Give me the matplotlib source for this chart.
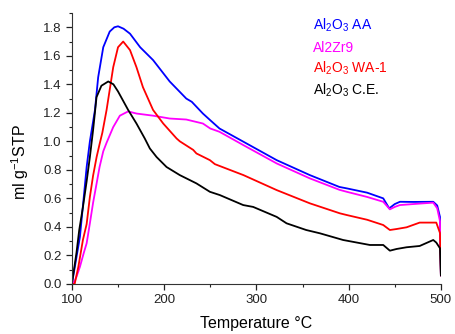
import matplotlib
matplotlib.use("Agg")
import matplotlib.pyplot as plt
from matplotlib.ticker import MultipleLocator

plt.rcParams['font.family'] = ['Liberation Sans', 'DejaVu Sans']
plt.rcParams['mathtext.default'] = 'regular'

# Al2O3 AA (blue)
aa_x = [100, 104, 108.7, 112, 116, 119.5, 125, 128.5, 134, 141, 146, 150, 156, 163, 174, 188, 206, 224, 230, 242, 250, 260,
        286, 322, 358, 390, 398, 420, 437.5, 444, 450, 455.6, 470, 491.7, 496, 499, 500]
aa_y = [0.0, 0.15, 0.33, 0.55, 0.82, 1.0, 1.22, 1.45, 1.66, 1.77, 1.80, 1.807, 1.79, 1.755, 1.66, 1.57, 1.42, 1.30, 1.277, 1.195, 1.148, 1.09,
        0.997, 0.868, 0.763, 0.68, 0.67, 0.64, 0.60, 0.53, 0.56, 0.576, 0.575, 0.576, 0.55, 0.47, 0.06]

# Al2Zr9 (magenta)
zr_x = [100, 103, 105, 108.7, 113, 116, 119.5, 123, 126.8, 130, 134, 137.6, 144.8, 152, 161, 170, 188, 206, 224, 242, 250,
        260, 286, 322, 358, 390, 398, 420, 437.5, 444.7, 450, 455.6, 470, 491.7, 496, 499, 500]
zr_y = [0.0, 0.02, 0.05, 0.12, 0.22, 0.285, 0.425, 0.57, 0.705, 0.82, 0.93, 0.99, 1.10, 1.18, 1.21, 1.195, 1.18, 1.16, 1.153, 1.125, 1.09,
        1.067, 0.973, 0.845, 0.74, 0.66, 0.646, 0.61, 0.576, 0.523, 0.54, 0.553, 0.56, 0.57, 0.53, 0.44, 0.06]

# Al2O3 WA-1 (red)
wa_x = [100, 103, 107, 112, 116, 119.5, 123, 126.8, 130, 133, 137.6, 144.8, 150, 155.6, 163, 170, 177, 188, 199, 213.5, 217,
        231.5, 235, 249.6, 255, 286, 322, 358, 390.5, 398, 420, 437.5, 444.7, 452, 462.8, 477, 495, 499, 500]
wa_y = [0.0, 0.0, 0.12, 0.31, 0.42, 0.61, 0.76, 0.89, 0.98, 1.06, 1.22, 1.52, 1.66, 1.70, 1.64, 1.52, 1.38, 1.22, 1.125, 1.02, 1.0,
        0.94, 0.915, 0.868, 0.84, 0.763, 0.658, 0.565, 0.495, 0.483, 0.45, 0.413, 0.378, 0.385, 0.397, 0.43, 0.43, 0.357, 0.06]

# Al2O3 C.E. (black)
ce_x = [100, 105, 108, 112, 116, 119.5, 123, 126.7, 132, 139.4, 145, 150, 161, 170, 179, 184.5, 191.8, 202.6, 217, 235,
        249.6, 260.4, 285.7, 296.5, 322, 332.7, 354, 368.8, 394, 423, 437.5, 444.7, 452, 462.8, 477, 491.7, 495, 499, 500]
ce_y = [0.0, 0.22, 0.38, 0.54, 0.72, 0.89, 1.08, 1.31, 1.39, 1.42, 1.40, 1.35, 1.22, 1.125, 1.02, 0.95, 0.89, 0.82, 0.763, 0.705,
        0.646, 0.623, 0.553, 0.54, 0.47, 0.425, 0.378, 0.355, 0.308, 0.273, 0.273, 0.233, 0.245, 0.257, 0.266, 0.308, 0.29, 0.25, 0.06]

labels = [r'Al$_2$O$_3$ AA', 'Al2Zr9', r'Al$_2$O$_3$ WA-1', r'Al$_2$O$_3$ C.E.']
colors = ['#0000ff', '#ff00ff', '#ff0000', '#000000']

fig = plt.figure(figsize=(4.55, 3.34), dpi=100)
ax = fig.add_axes([0.158, 0.150, 0.811, 0.811])

series = [(aa_x, aa_y), (zr_x, zr_y), (wa_x, wa_y), (ce_x, ce_y)]
for (x, y), c in zip(series, colors):
    ax.plot(x, y, color=c, lw=1.3)

ax.set_xlim(100, 500)
ax.set_ylim(0, 1.9)
ax.xaxis.set_major_locator(MultipleLocator(100))
ax.xaxis.set_minor_locator(MultipleLocator(50))
ax.yaxis.set_major_locator(MultipleLocator(0.2))
ax.yaxis.set_minor_locator(MultipleLocator(0.1))
ax.yaxis.set_major_formatter(matplotlib.ticker.FormatStrFormatter('%.1f'))
ax.spines['top'].set_visible(False)
ax.spines['right'].set_visible(False)
for s in ['left', 'bottom']:
    ax.spines[s].set_color('#333333')
ax.tick_params(which='major', direction='out', length=4, width=0.9, labelsize=9.5, colors='#222222')
ax.tick_params(which='minor', direction='out', length=2.5, width=0.8, colors='#222222')
ax.set_xlabel('Temperature °C', fontsize=11.5, labelpad=7)
ax.set_ylabel(r'ml g$^{-1}$STP', fontsize=11.5)
ax.yaxis.set_label_coords(-0.11, 0.45)

ys = [30, 52, 73, 95]
for lab, c, yp in zip(labels, colors, ys):
    fig.text(313 / 455, 1 - yp / 334, lab, color=c, fontsize=10, va='baseline', ha='left')

fig.savefig('out.png', dpi=100)
